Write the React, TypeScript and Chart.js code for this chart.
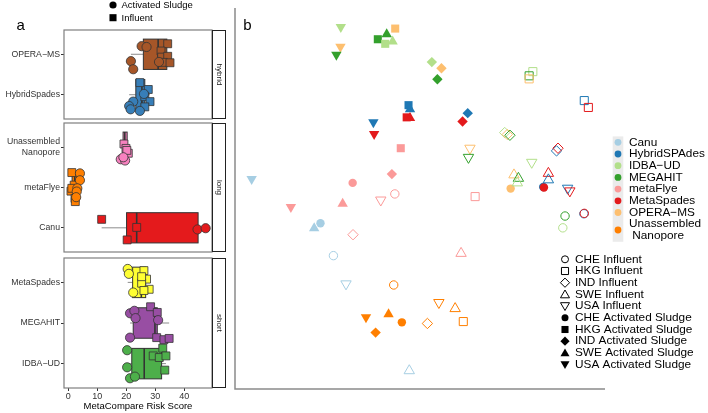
import React, { useEffect, useRef } from 'react';
import { Chart, registerables } from 'chart.js';
Chart.register(...registerables);

const FONT = '"Liberation Sans", Arial, Helvetica, sans-serif';

// ---------------- Panel a data ----------------
const xTickValues = [0, 10, 20, 30, 40];
const boxNames = ['OPERA-MS', 'HybridSpades', 'Unassembled Nanopore', 'metaFlye', 'Canu', 'MetaSpades', 'MEGAHIT', 'IDBA-UD'];
const boxLabels: (string | string[])[] = ['OPERA\u2212MS', 'HybridSpades', ['Unassembled', 'Nanopore'], 'metaFlye', 'Canu', 'MetaSpades', 'MEGAHIT', 'IDBA\u2212UD'];
const boxColors = ['#A65628', '#377EB8', '#F781BF', '#FF7F00', '#E41A1C', '#FFFF33', '#984EA3', '#4DAF4A'];
const boxMin = [21.6, 21.0, 18.1, 0.9, 11.5, 20.5, 21.3, 20.1];
const boxQ1 = [25.9, 23.3, 18.9, 1.3, 20.1, 22.2, 22.4, 21.9];
const boxMedian = [31.0, 25.4, 19.5, 2.2, 23.6, 25.2, 29.9, 26.2];
const boxQ3 = [34.0, 26.4, 20.3, 3.0, 44.8, 26.7, 30.7, 32.2];
const boxMax = [35.1, 28.2, 20.7, 4.0, 47.4, 27.9, 34.8, 33.7];

type Pt = [string, number, number]; // [sample type, risk score, vertical jitter]
const operaMsPoints: Pt[] = [
  ['AS', 25.3, -0.2], ['AS', 27.0, -0.18], ['AS', 21.6, 0.17], ['AS', 22.4, 0.37], ['AS', 31.3, 0.19],
  ['Inf', 34.3, -0.26], ['Inf', 32.0, -0.08], ['Inf', 32.2, 0.07], ['Inf', 34.3, 0.05], ['Inf', 32.8, 0.2], ['Inf', 35.1, 0.21],
];
const hybridSpadesPoints: Pt[] = [
  ['AS', 22.4, 0.17], ['AS', 21.0, 0.28], ['AS', 21.5, 0.36], ['AS', 24.7, 0.4], ['AS', 26.1, -0.02],
  ['Inf', 24.7, -0.3], ['Inf', 27.6, -0.13], ['Inf', 26.4, 0.05], ['Inf', 28.2, 0.17], ['Inf', 26.4, 0.3],
];
const unassembledPoints: Pt[] = [
  ['Inf', 19.2, -0.08], ['Inf', 19.9, 0.03], ['Inf', 20.7, 0.15], ['Inf', 20.2, 0.08],
  ['AS', 18.1, 0.3], ['AS', 19.6, 0.33], ['AS', 19.0, 0.25],
];
const metaFlyePoints: Pt[] = [
  ['Inf', 1.2, -0.37], ['Inf', 2.0, -0.06], ['Inf', 0.9, 0.09], ['Inf', 1.2, 0.02], ['Inf', 2.3, 0.27], ['Inf', 2.4, 0.35],
  ['AS', 4.0, -0.35], ['AS', 4.0, -0.18], ['AS', 3.1, 0.02], ['AS', 2.9, 0.1], ['AS', 2.7, 0.24],
];
const canuPoints: Pt[] = [
  ['Inf', 11.5, -0.21], ['Inf', 23.6, -0.01], ['Inf', 20.3, 0.3],
  ['AS', 44.6, 0.04], ['AS', 47.4, 0.01],
];
const metaSpadesPoints: Pt[] = [
  ['AS', 20.5, -0.33], ['AS', 20.9, -0.21], ['AS', 22.4, 0.25],
  ['Inf', 26.1, -0.29], ['Inf', 27.0, -0.08], ['Inf', 25.3, 0.02], ['Inf', 27.9, 0.17], ['Inf', 26.1, 0.2], ['Inf', 25.3, -0.14],
];
const megahitPoints: Pt[] = [
  ['AS', 21.3, -0.24], ['AS', 22.8, -0.3], ['AS', 23.2, -0.12], ['AS', 31.0, -0.07], ['AS', 21.3, 0.36],
  ['Inf', 28.4, -0.4], ['Inf', 30.7, -0.26], ['Inf', 30.5, 0.36], ['Inf', 33.0, 0.41], ['Inf', 34.8, 0.38],
];
const idbaPoints: Pt[] = [
  ['AS', 20.3, -0.33], ['AS', 20.3, 0.09], ['AS', 21.3, 0.36], ['AS', 23.0, 0.32],
  ['Inf', 32.6, -0.38], ['Inf', 29.3, -0.19], ['Inf', 31.4, -0.15], ['Inf', 33.7, -0.19], ['Inf', 33.3, 0.16],
];
const boxPoints = [operaMsPoints, hybridSpadesPoints, unassembledPoints, metaFlyePoints, canuPoints, metaSpadesPoints, megahitPoints, idbaPoints];

const facetStrips = ['hybrid', 'long', 'short'];
const facetMembers = [[0, 1], [2, 3, 4], [5, 6, 7]];

// ---------------- Panel b data ----------------
const assemblers = ['Canu', 'HybridSPAdes', 'IDBA-UD', 'MEGAHIT', 'metaFlye', 'MetaSpades', 'OPERA-MS', 'Unassembled Nanopore'];
const assemblerLegend: (string | string[])[] = ['Canu', 'HybridSPAdes', 'IDBA\u2212UD', 'MEGAHIT', 'metaFlye', 'MetaSpades', 'OPERA\u2212MS', ['Unassembled', ' Nanopore']];
const assemblerColors = ['#A6CEE3', '#1F78B4', '#B2DF8A', '#33A02C', '#FB9A99', '#E31A1C', '#FDBF6F', '#FF7F00'];
const countries = ['CHE', 'HKG', 'IND', 'SWE', 'USA'];
const countryShapes = ['circle', 'rect', 'rectRot', 'triangle', 'triangle'];
const countryRotation = [0, 0, 0, 0, 180];
const countryRadius = [4.2, 5.7, 5.2, 6, 6];

type SP = [string, string, number, number]; // [assembler, country, axis 1, axis 2]
const sludgePoints: SP[] = [
  ['IDBA-UD', 'USA', 28.6, 95.0], ['OPERA-MS', 'USA', 28.5, 89.8], ['MEGAHIT', 'USA', 27.4, 87.7],
  ['MEGAHIT', 'HKG', 38.6, 91.8], ['MEGAHIT', 'SWE', 41.0, 93.1], ['IDBA-UD', 'HKG', 40.6, 90.6],
  ['IDBA-UD', 'SWE', 42.6, 91.2], ['OPERA-MS', 'HKG', 43.3, 94.6],
  ['IDBA-UD', 'IND', 53.2, 85.8], ['OPERA-MS', 'IND', 55.8, 84.2], ['MEGAHIT', 'IND', 54.7, 81.3],
  ['HybridSPAdes', 'HKG', 46.9, 74.5], ['HybridSPAdes', 'SWE', 47.3, 73.4],
  ['MetaSpades', 'HKG', 46.4, 71.3], ['MetaSpades', 'SWE', 47.3, 71.1],
  ['HybridSPAdes', 'USA', 37.4, 70.0], ['MetaSpades', 'USA', 37.6, 66.9],
  ['HybridSPAdes', 'IND', 62.9, 72.4], ['MetaSpades', 'IND', 61.5, 70.2],
  ['metaFlye', 'HKG', 44.8, 63.2], ['Canu', 'USA', 4.5, 55.1], ['metaFlye', 'IND', 42.4, 56.4],
  ['metaFlye', 'CHE', 31.8, 54.1], ['metaFlye', 'USA', 15.1, 47.8], ['metaFlye', 'SWE', 29.1, 48.6],
  ['OPERA-MS', 'CHE', 74.5, 52.6], ['HybridSPAdes', 'CHE', 83.3, 53.0], ['MetaSpades', 'CHE', 83.5, 52.9],
  ['Canu', 'SWE', 21.4, 42.2], ['Canu', 'CHE', 23.1, 43.5],
  ['Unassembled Nanopore', 'USA', 35.4, 18.8], ['Unassembled Nanopore', 'SWE', 41.5, 19.6],
  ['Unassembled Nanopore', 'CHE', 45.1, 17.5], ['Unassembled Nanopore', 'IND', 38.0, 14.8],
];
const influentPoints: SP[] = [
  ['IDBA-UD', 'HKG', 80.5, 83.3], ['MEGAHIT', 'HKG', 79.5, 82.2], ['OPERA-MS', 'HKG', 79.5, 81.4],
  ['HybridSPAdes', 'HKG', 94.4, 75.7], ['MetaSpades', 'HKG', 95.5, 73.9],
  ['IDBA-UD', 'IND', 72.9, 67.3], ['OPERA-MS', 'IND', 73.6, 66.8], ['MEGAHIT', 'IND', 74.3, 66.6],
  ['HybridSPAdes', 'IND', 86.9, 62.5], ['MetaSpades', 'IND', 87.3, 63.2],
  ['OPERA-MS', 'USA', 63.5, 63.2], ['MEGAHIT', 'USA', 63.1, 60.8], ['IDBA-UD', 'USA', 80.2, 59.5],
  ['OPERA-MS', 'SWE', 75.4, 56.2], ['MEGAHIT', 'SWE', 76.6, 55.3], ['IDBA-UD', 'SWE', 76.3, 54.1],
  ['MetaSpades', 'SWE', 84.7, 56.6], ['HybridSPAdes', 'SWE', 84.7, 54.9],
  ['HybridSPAdes', 'USA', 89.9, 52.7], ['MetaSpades', 'USA', 90.5, 52.0],
  ['metaFlye', 'HKG', 64.9, 50.5], ['MEGAHIT', 'CHE', 89.2, 45.4], ['IDBA-UD', 'CHE', 88.6, 42.3],
  ['HybridSPAdes', 'CHE', 94.3, 46.0], ['MetaSpades', 'CHE', 94.4, 46.1],
  ['metaFlye', 'SWE', 61.1, 35.6], ['Unassembled Nanopore', 'USA', 55.1, 22.7],
  ['Unassembled Nanopore', 'SWE', 59.5, 21.1], ['Unassembled Nanopore', 'HKG', 61.7, 17.7],
  ['metaFlye', 'CHE', 43.2, 51.2], ['metaFlye', 'USA', 39.4, 49.6], ['metaFlye', 'IND', 31.9, 40.5],
  ['Canu', 'CHE', 26.6, 35.0], ['Canu', 'USA', 30.0, 27.6],
  ['Unassembled Nanopore', 'CHE', 42.9, 27.3], ['Unassembled Nanopore', 'IND', 52.0, 17.2],
  ['Canu', 'SWE', 47.1, 4.8],
];
const shapeLegendLabels = ['CHE Influent', 'HKG Influent', 'IND Influent', 'SWE Influent', 'USA Influent',
  'CHE Activated Sludge', 'HKG Activated Sludge', 'IND Activated Sludge', 'SWE Activated Sludge', 'USA Activated Sludge'];

// ---------------- helpers ----------------
function drawShape(ctx: CanvasRenderingContext2D, shape: string, x: number, y: number, r: number, rot: number, filled: boolean, color: string) {
  ctx.save();
  ctx.beginPath();
  if (shape === 'circle') {
    ctx.arc(x, y, r, 0, Math.PI * 2);
  } else if (shape === 'rect') {
    const s = r * Math.SQRT1_2;
    ctx.rect(x - s, y - s, 2 * s, 2 * s);
  } else if (shape === 'rectRot') {
    ctx.moveTo(x, y - r); ctx.lineTo(x + r, y); ctx.lineTo(x, y + r); ctx.lineTo(x - r, y); ctx.closePath();
  } else {
    let a = (rot * Math.PI) / 180;
    ctx.moveTo(x + Math.sin(a) * r, y - Math.cos(a) * r);
    a += (2 * Math.PI) / 3;
    ctx.lineTo(x + Math.sin(a) * r, y - Math.cos(a) * r);
    a += (2 * Math.PI) / 3;
    ctx.lineTo(x + Math.sin(a) * r, y - Math.cos(a) * r);
    ctx.closePath();
  }
  if (filled) { ctx.fillStyle = color; ctx.fill(); }
  else { ctx.strokeStyle = color; ctx.lineWidth = 1; ctx.stroke(); }
  ctx.restore();
}

function line(ctx: CanvasRenderingContext2D, x0: number, y0: number, x1: number, y1: number) {
  ctx.beginPath(); ctx.moveTo(x0, y0); ctx.lineTo(x1, y1); ctx.stroke();
}

const facetPads = [
  { top: 30, bottom: 2 },
  { top: 2, bottom: 2 },
  { top: 4, bottom: 0 },
];

function makeFacet(canvas: HTMLCanvasElement, fi: number) {
  const members = facetMembers[fi];
  const n = members.length;
  const showX = fi === facetMembers.length - 1;
  const datasets: any[] = [];
  members.forEach((bi, k) => {
    ['AS', 'Inf'].forEach((t) => {
      datasets.push({
        data: boxPoints[bi].filter((p) => p[0] === t).map((p) => ({ x: p[1], y: k + 1 + p[2] })),
        pointStyle: t === 'AS' ? 'circle' : 'rect',
        pointRadius: t === 'AS' ? 4.6 : 5.6,
        pointBackgroundColor: boxColors[bi],
        pointBorderColor: '#333333',
        pointBorderWidth: 0.8,
        clip: false,
      });
    });
  });

  const deco = {
    id: 'facetDeco' + fi,
    beforeDatasetsDraw(chart: any) {
      const { ctx } = chart;
      const xs = chart.scales.x, ys = chart.scales.y;
      members.forEach((bi, k) => {
        const yc = ys.getPixelForValue(k + 1);
        const h = Math.abs(ys.getPixelForValue(k + 1 + 0.375) - yc);
        const xl = xs.getPixelForValue(boxMin[bi]);
        const x1 = xs.getPixelForValue(boxQ1[bi]);
        const xm = xs.getPixelForValue(boxMedian[bi]);
        const x3 = xs.getPixelForValue(boxQ3[bi]);
        const xh = xs.getPixelForValue(boxMax[bi]);
        ctx.save();
        ctx.strokeStyle = '#8c8c8c';
        ctx.lineWidth = 1;
        line(ctx, xl, yc, x1, yc);
        line(ctx, x3, yc, xh, yc);
        ctx.fillStyle = boxColors[bi];
        ctx.fillRect(x1, yc - h, x3 - x1, 2 * h);
        ctx.strokeStyle = '#333333';
        ctx.strokeRect(x1, yc - h, x3 - x1, 2 * h);
        ctx.lineWidth = 1.6;
        line(ctx, xm, yc - h, xm, yc + h);
        ctx.restore();
      });
    },
    afterDraw(chart: any) {
      const { ctx, chartArea: a } = chart;
      ctx.save();
      ctx.strokeStyle = '#7f7f7f';
      ctx.lineWidth = 1.2;
      ctx.strokeRect(a.left, a.top, a.right - a.left, a.bottom - a.top);
      // strip
      ctx.fillStyle = '#ffffff';
      ctx.fillRect(a.right, a.top, 13, a.bottom - a.top);
      ctx.strokeStyle = '#222222';
      ctx.lineWidth = 1;
      ctx.strokeRect(a.right + 0.5, a.top + 0.5, 13, a.bottom - a.top - 1);
      ctx.translate(a.right + 7, (a.top + a.bottom) / 2);
      ctx.rotate(Math.PI / 2);
      ctx.fillStyle = '#1a1a1a';
      ctx.font = `8px ${FONT}`;
      ctx.textAlign = 'center';
      ctx.textBaseline = 'middle';
      ctx.fillText(facetStrips[fi], 0, 0);
      ctx.restore();
      if (fi === 0) {
        ctx.save();
        ctx.fillStyle = '#000';
        ctx.font = `15px ${FONT}`;
        ctx.textBaseline = 'alphabetic';
        ctx.fillText('a', 16.5, 29.5);
        drawShape(ctx, 'circle', 113, 5, 3.6, 0, true, '#000');
        drawShape(ctx, 'rect', 113, 17.7, 5, 0, true, '#000');
        ctx.font = `9.5px ${FONT}`;
        ctx.textBaseline = 'middle';
        ctx.fillText('Activated Sludge', 121.5, 5.5);
        ctx.fillText('Influent', 121.5, 18);
        ctx.restore();
      }
    },
  };

  return new Chart(canvas, {
    type: 'scatter',
    data: { datasets },
    options: {
      animation: false,
      responsive: false,
      devicePixelRatio: 1,
      layout: { autoPadding: false, padding: { left: 0, right: 18, top: facetPads[fi].top, bottom: facetPads[fi].bottom } },
      plugins: { legend: { display: false }, tooltip: { enabled: false } },
      scales: {
        x: {
          type: 'linear', min: -1.5, max: 49.6, display: showX,
          afterBuildTicks: (s: any) => { s.ticks = xTickValues.map((v) => ({ value: v })); },
          afterFit: (s: any) => { s.height = showX ? 25 : 0; s.paddingLeft = 0; s.paddingRight = 0; },
          ticks: { font: { family: FONT, size: 9 }, color: '#333333', padding: 0, maxRotation: 0, autoSkip: false },
          grid: { drawOnChartArea: false, drawTicks: true, tickLength: 3, color: '#333333' },
          border: { display: false },
          title: { display: true, text: 'MetaCompare Risk Score', color: '#000', font: { family: FONT, size: 9.5 }, padding: { top: 0, bottom: 1 } },
        },
        y: {
          type: 'linear', reverse: true, min: 0.4, max: n + 0.6,
          afterBuildTicks: (s: any) => { s.ticks = members.map((_, k) => ({ value: k + 1 })); },
          afterFit: (s: any) => { s.width = 64; s.paddingTop = 0; s.paddingBottom = 0; },
          ticks: {
            callback: (v: any) => boxLabels[members[Math.round(Number(v)) - 1]],
            font: { family: FONT, size: 8.7 }, color: '#333333', padding: 1, autoSkip: false,
          },
          grid: { drawOnChartArea: false, drawTicks: true, tickLength: 3, color: '#333333' },
          border: { display: false },
        },
      },
    } as any,
    plugins: [deco],
  });
}

function makeScatter(canvas: HTMLCanvasElement) {
  const build = (pts: SP[], filled: boolean) => {
    const cols = pts.map((p) => assemblerColors[assemblers.indexOf(p[0])]);
    const ci = pts.map((p) => countries.indexOf(p[1]));
    return {
      data: pts.map((p) => ({ x: p[2], y: p[3] })),
      pointStyle: ci.map((c) => countryShapes[c]),
      pointRotation: ci.map((c) => countryRotation[c]),
      pointRadius: ci.map((c) => countryRadius[c]),
      pointBackgroundColor: filled ? cols : 'rgba(0,0,0,0)',
      pointBorderColor: cols,
      pointBorderWidth: filled ? 0 : 1,
      clip: false,
    };
  };
  const deco = {
    id: 'panelB',
    beforeDatasetsDraw(chart: any) {
      const { ctx, chartArea: a } = chart;
      ctx.save();
      ctx.strokeStyle = '#8a8a8a';
      ctx.lineWidth = 1.5;
      ctx.beginPath();
      ctx.moveTo(a.left, a.top);
      ctx.lineTo(a.left, a.bottom);
      ctx.lineTo(a.right, a.bottom);
      ctx.stroke();
      ctx.restore();
    },
    afterDraw(chart: any) {
      const { ctx } = chart;
      ctx.save();
      ctx.fillStyle = '#000';
      ctx.font = `15px ${FONT}`;
      ctx.fillText('b', 13.3, 30);
      // colour legend
      ctx.fillStyle = '#ebebeb';
      ctx.fillRect(382.7, 136.4, 10.6, 105.4);
      ctx.font = `11.8px ${FONT}`;
      ctx.textBaseline = 'middle';
      assemblerLegend.forEach((lab, i) => {
        const y = 142.3 + i * 11.7;
        if (Array.isArray(lab)) {
          drawShape(ctx, 'circle', 388, y + 5.8, 3.4, 0, true, assemblerColors[i]);
          ctx.fillStyle = '#000';
          ctx.fillText(lab[0], 399, y);
          ctx.fillText(lab[1], 399, y + 11.7);
        } else {
          drawShape(ctx, 'circle', 388, y, 3.4, 0, true, assemblerColors[i]);
          ctx.fillStyle = '#000';
          ctx.fillText(lab, 399, y);
        }
      });
      // shape legend
      shapeLegendLabels.forEach((lab, i) => {
        const y = 259.3 + i * 11.7;
        const c = i % 5;
        const filled = i >= 5;
        const r = [3.5, 5, 4.6, 5.2, 5.2][c];
        drawShape(ctx, countryShapes[c], 335, c === 3 ? y + 0.8 : c === 4 ? y - 0.8 : y, r, countryRotation[c], filled, '#000');
        ctx.fillStyle = '#000';
        ctx.fillText(lab, 345, y);
      });
      ctx.restore();
    },
  };
  return new Chart(canvas, {
    type: 'scatter',
    data: { datasets: [build(influentPoints, false), build(sludgePoints, true)] as any },
    options: {
      animation: false,
      responsive: false,
      devicePixelRatio: 1,
      layout: { autoPadding: false, padding: { left: 5, right: 103, top: 8, bottom: 24 } },
      plugins: { legend: { display: false }, tooltip: { enabled: false } },
      scales: {
        x: { type: 'linear', min: 0, max: 100, display: false },
        y: { type: 'linear', min: 0, max: 100, display: false },
      },
    } as any,
    plugins: [deco],
  });
}

export default function App() {
  const f1 = useRef<HTMLCanvasElement>(null);
  const f2 = useRef<HTMLCanvasElement>(null);
  const f3 = useRef<HTMLCanvasElement>(null);
  const pb = useRef<HTMLCanvasElement>(null);
  useEffect(() => {
    const charts = [
      makeFacet(f1.current!, 0),
      makeFacet(f2.current!, 1),
      makeFacet(f3.current!, 2),
      makeScatter(pb.current!),
    ];
    return () => charts.forEach((c) => c.destroy());
  }, []);
  return (
    <div style={{ position: 'fixed', left: 0, top: 0, width: 708, height: 413, background: '#ffffff', overflow: 'hidden' }}>
      <canvas ref={f1} width={230} height={121} style={{ position: 'absolute', left: 0, top: 0 }} />
      <canvas ref={f2} width={230} height={133} style={{ position: 'absolute', left: 0, top: 121 }} />
      <canvas ref={f3} width={230} height={159} style={{ position: 'absolute', left: 0, top: 254 }} />
      <canvas ref={pb} width={478} height={413} style={{ position: 'absolute', left: 230, top: 0 }} />
    </div>
  );
}
